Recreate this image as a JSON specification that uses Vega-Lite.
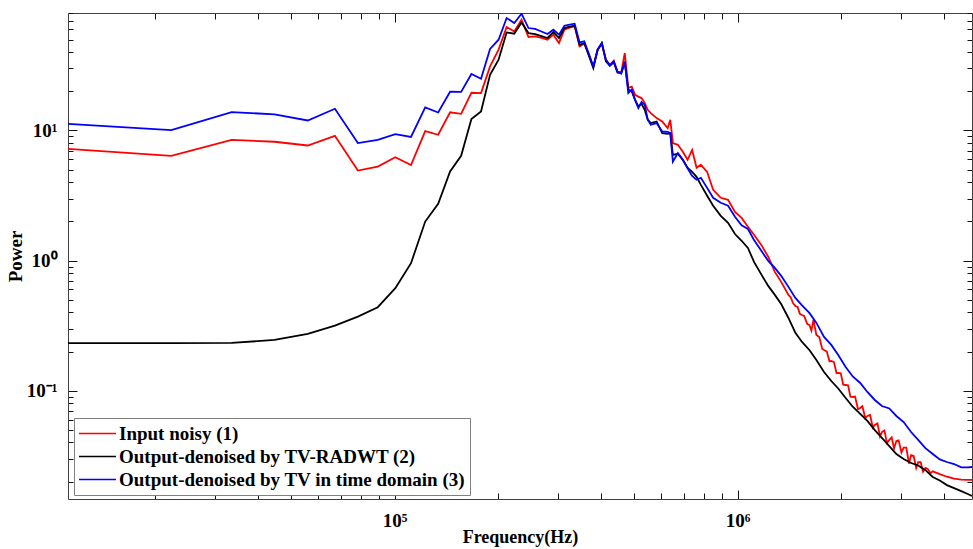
{
"$schema": "https://vega.github.io/schema/vega-lite/v6.json",
"width": 904,
"height": 486,
"autosize": "none",
"padding": {"left": 68, "top": 13, "right": 1, "bottom": 50},
"background": "white",
"config": {"view": {"stroke": null}, "font": "Liberation Serif"},
"data": {"values": [
{"f":11170,"r":7.23,"k":0.2316,"b":11.26},
{"f":22340,"r":6.39,"k":0.2316,"b":10.07},
{"f":33510,"r":8.48,"k":0.2328,"b":13.85},
{"f":44680,"r":8.19,"k":0.2455,"b":13.32},
{"f":55850,"r":7.67,"k":0.2731,"b":11.94},
{"f":67020,"r":9.10,"k":0.3162,"b":14.69},
{"f":78190,"r":4.92,"k":0.371,"b":8.00},
{"f":89360,"r":5.28,"k":0.438,"b":8.48},
{"f":100530,"r":6.22,"k":0.613,"b":9.38},
{"f":111700,"r":5.43,"k":0.955,"b":8.91},
{"f":122870,"r":9.88,"k":1.995,"b":15.03},
{"f":134040,"r":9.27,"k":2.73,"b":13.75},
{"f":145210,"r":13.8,"k":4.84,"b":19.85},
{"f":156380,"r":13.44,"k":6.39,"b":19.78},
{"f":167550,"r":19.5,"k":12.24,"b":27.16},
{"f":178720,"r":19.4,"k":14.0,"b":24.98},
{"f":189890,"r":31.07,"k":26.8,"b":42.29},
{"f":201060,"r":41.8,"k":35.0,"b":49.86},
{"f":212230,"r":62.4,"k":56.7,"b":73.2},
{"f":223400,"r":57.7,"k":55.4,"b":67.0},
{"f":234570,"r":71.0,"k":67.7,"b":79.0},
{"f":245740,"r":52.3,"k":56.1,"b":61.3},
{"f":256910,"r":52.9,"k":55.1,"b":60.3},
{"f":268080,"r":51.4,"k":53.2,"b":57.7},
{"f":279250,"r":49.86,"k":51.4,"b":55.1},
{"f":290420,"r":54.5,"k":57.1,"b":59.5},
{"f":301590,"r":47.0,"k":51.4,"b":54.5},
{"f":312760,"r":59.5,"k":61.3,"b":63.9},
{"f":323930,"r":61.7,"k":62.8,"b":65.0},
{"f":335100,"r":63.1,"k":63.9,"b":66.2},
{"f":346270,"r":44.3,"k":45.6,"b":47.5},
{"f":357440,"r":46.4,"k":47.0,"b":48.4},
{"f":368610,"r":38.2,"k":37.6,"b":38.9},
{"f":379780,"r":30.9,"k":30.2,"b":31.07},
{"f":390950,"r":41.8,"k":41.8,"b":41.8},
{"f":402120,"r":46.4,"k":47.0,"b":47.0},
{"f":413290,"r":35.0,"k":33.95,"b":35.0},
{"f":424460,"r":32.0,"k":31.5,"b":31.5},
{"f":435630,"r":34.4,"k":33.4,"b":33.95},
{"f":446800,"r":28.3,"k":27.9,"b":28.3},
{"f":457970,"r":27.8,"k":27.8,"b":27.3},
{"f":469140,"r":39.4,"k":33.0,"b":33.95},
{"f":480310,"r":21.3,"k":20.6,"b":19.4},
{"f":491480,"r":21.7,"k":19.95,"b":20.6},
{"f":502650,"r":18.8,"k":17.2,"b":17.2},
{"f":513820,"r":18.2,"k":15.3,"b":14.87},
{"f":524990,"r":17.75,"k":16.05,"b":16.6},
{"f":536160,"r":16.3,"k":14.43,"b":15.8},
{"f":547330,"r":14.43,"k":12.1,"b":12.1},
{"f":558500,"r":13.6,"k":11.4,"b":11.06},
{"f":580840,"r":12.45,"k":11.73,"b":11.4},
{"f":603180,"r":11.73,"k":9.55,"b":9.82},
{"f":625520,"r":10.43,"k":9.43,"b":9.77},
{"f":636690,"r":12.09,"k":9.55,"b":9.55},
{"f":647860,"r":8.00,"k":6.50,"b":5.77},
{"f":670200,"r":7.76,"k":6.62,"b":6.70},
{"f":692540,"r":6.86,"k":5.95,"b":5.95},
{"f":714880,"r":5.95,"k":5.17,"b":5.12},
{"f":737220,"r":7.10,"k":4.81,"b":4.48},
{"f":759560,"r":5.17,"k":4.40,"b":4.18},
{"f":781900,"r":5.45,"k":3.82,"b":4.33},
{"f":815410,"r":4.81,"k":3.15,"b":3.62},
{"f":848920,"r":3.50,"k":2.64,"b":3.04},
{"f":893600,"r":3.04,"k":2.21,"b":2.78},
{"f":938280,"r":2.93,"k":1.95,"b":2.64},
{"f":982960,"r":2.37,"k":1.60,"b":2.17},
{"f":1027640,"r":2.13,"k":1.42,"b":1.87},
{"f":1072320,"r":1.82,"k":1.25,"b":1.75},
{"f":1117000,"r":1.58,"k":0.977,"b":1.44},
{"f":1172850,"r":1.32,"k":0.783,"b":1.19},
{"f":1228700,"r":1.07,"k":0.639,"b":0.995},
{"f":1284550,"r":0.819,"k":0.545,"b":0.879},
{"f":1340400,"r":0.686,"k":0.464,"b":0.763},
{"f":1407420,"r":0.545,"k":0.362,"b":0.628},
{"f":1429760,"r":0.52},
{"f":1452100,"r":0.47},
{"f":1474440,"r":0.448,"k":0.278,"b":0.516},
{"f":1496780,"r":0.44},
{"f":1519120,"r":0.39},
{"f":1541460,"r":0.382,"k":0.237,"b":0.452},
{"f":1563800,"r":0.375},
{"f":1597310,"r":0.325},
{"f":1619650,"r":0.320,"k":0.2056,"b":0.396},
{"f":1641990,"r":0.29},
{"f":1664330,"r":0.35},
{"f":1697840,"r":0.268,"k":0.1722,"b":0.332},
{"f":1731350,"r":0.258},
{"f":1764860,"r":0.21},
{"f":1787200,"r":0.2056,"k":0.1393,"b":0.259},
{"f":1820710,"r":0.2},
{"f":1854220,"r":0.168},
{"f":1876560,"r":0.1693,"k":0.1187,"b":0.2247},
{"f":1910070,"r":0.166},
{"f":1943580,"r":0.136},
{"f":1965920,"r":0.1368,"k":0.1039,"b":0.1882},
{"f":1999430,"r":0.136},
{"f":2032940,"r":0.111},
{"f":2066450,"r":0.1106,"k":0.0879,"b":0.1522},
{"f":2099960,"r":0.11},
{"f":2133470,"r":0.09},
{"f":2166980,"r":0.0894,"k":0.0753,"b":0.1286},
{"f":2200490,"r":0.09},
{"f":2245170,"r":0.072},
{"f":2278680,"r":0.0736,"k":0.0662,"b":0.1146},
{"f":2312190,"r":0.076},
{"f":2356870,"r":0.0615},
{"f":2390380,"r":0.0639,"k":0.0585,"b":0.0977},
{"f":2435060,"r":0.065},
{"f":2479740,"r":0.052},
{"f":2513250,"r":0.0545,"k":0.0498,"b":0.0848},
{"f":2557930,"r":0.056},
{"f":2602610,"r":0.0445},
{"f":2636120,"r":0.0481,"k":0.0433,"b":0.0762},
{"f":2680800,"r":0.0495},
{"f":2725480,"r":0.0395},
{"f":2770160,"r":0.0418,"k":0.0375,"b":0.0730},
{"f":2814840,"r":0.0437},
{"f":2859520,"r":0.036},
{"f":2904200,"r":0.041,"k":0.0326,"b":0.0639},
{"f":2948880,"r":0.0415},
{"f":3004730,"r":0.0335},
{"f":3049410,"r":0.0365,"k":0.0298,"b":0.0574},
{"f":3105260,"r":0.0365},
{"f":3161110,"r":0.0275},
{"f":3205790,"r":0.032,"k":0.0278,"b":0.0481},
{"f":3261640,"r":0.0315},
{"f":3317490,"r":0.0255},
{"f":3362170,"r":0.0282,"k":0.0266,"b":0.0418},
{"f":3418020,"r":0.0282},
{"f":3473870,"r":0.0238},
{"f":3529720,"r":0.0255,"k":0.0245,"b":0.0362},
{"f":3585570,"r":0.025},
{"f":3652590,"r":0.0232},
{"f":3708440,"r":0.024,"k":0.0217,"b":0.0326},
{"f":3887160,"r":0.0228,"k":0.0204,"b":0.0296},
{"f":4077050,"r":0.0218,"k":0.0188,"b":0.0283},
{"f":4278110,"r":0.0211,"k":0.0178,"b":0.0273},
{"f":4490340,"r":0.0207,"k":0.0169,"b":0.0257},
{"f":4691400,"r":0.0206,"k":0.01605,"b":0.0257},
{"f":4825440,"r":0.0206,"k":0.0155,"b":0.0259}
]},
"transform": [
  {"fold": ["r", "k", "b"], "as": ["s", "p"]},
  {"filter": "isValid(datum.p)"}
],
"layer": [
  {
    "mark": {"type": "line", "strokeWidth": 1.8, "clip": true},
    "encoding": {
      "x": {"field": "f", "type": "quantitative",
        "scale": {"type": "log", "domain": [11170, 4825440], "nice": false},
        "axis": {"orient": "bottom", "grid": false, "ticks": true,
          "values": [20000,30000,40000,50000,60000,70000,80000,90000,100000,200000,300000,400000,500000,600000,700000,800000,900000,1000000,2000000,3000000,4000000],
          "labelExpr": "datum.value == 100000 ? '10⁵' : datum.value == 1000000 ? '10⁶' : ''",
          "tickSize": {"condition": {"test": "datum.value == 100000 || datum.value == 1000000", "value": -9}, "value": -6},
          "tickColor": "#111111", "tickWidth": 1, "domainColor": "#404040",
          "labelPadding": 21, "labelFontSize": 19, "labelFont": "Liberation Serif", "labelFontWeight": "bold", "labelColor": "black",
          "labelOverlap": false, "labelFlush": false,
          "title": "Frequency(Hz)", "titleFont": "Liberation Serif", "titleFontSize": 18, "titleFontWeight": "bold", "titleColor": "black",
          "titleX": 452, "titleY": 38, "titleAlign": "center", "titleBaseline": "middle"}},
      "y": {"field": "p", "type": "quantitative",
        "scale": {"type": "log", "domain": [0.0147, 80], "nice": false},
        "axis": {"orient": "left", "grid": false, "ticks": true,
          "values": [0.02,0.03,0.04,0.05,0.06,0.07,0.08,0.09,0.1,0.2,0.3,0.4,0.5,0.6,0.7,0.8,0.9,1,2,3,4,5,6,7,8,9,10,20,30,40,50,60,70,80],
          "labelExpr": "datum.value == 0.1 ? '10⁻¹' : datum.value == 1 ? '10⁰' : datum.value == 10 ? '10¹' : ''",
          "tickSize": {"condition": {"test": "datum.value == 0.1 || datum.value == 1 || datum.value == 10", "value": -9}, "value": -5},
          "tickColor": "#111111", "tickWidth": 1, "domainColor": "#404040",
          "labelPadding": 20, "labelFontSize": 19, "labelFont": "Liberation Serif", "labelFontWeight": "bold", "labelColor": "black",
          "labelOverlap": false, "labelFlush": false,
          "title": "Power", "titleFont": "Liberation Serif", "titleFontSize": 19, "titleFontWeight": "bold", "titleColor": "black",
          "titleX": -53, "titleY": 243, "titleAlign": "center", "titleBaseline": "middle", "titleAngle": -90}},
      "color": {"field": "s", "type": "nominal",
        "scale": {"domain": ["r", "k", "b"], "range": ["#ff0000", "#000000", "#0000ff"]},
        "legend": {"title": null, "orient": "none", "legendX": 6, "legendY": 405,
          "symbolType": "stroke", "symbolSize": 1369, "symbolStrokeWidth": 1.6,
          "labelFont": "Liberation Serif", "labelFontSize": 19, "labelFontWeight": "bold", "labelColor": "black", "labelLimit": 500,
          "labelExpr": "datum.label == 'r' ? 'Input noisy (1)' : datum.label == 'k' ? 'Output-denoised by TV-RADWT (2)' : 'Output-denoised by TV in time domain (3)'",
          "fillColor": "white", "strokeColor": "#808080", "padding": 4, "rowPadding": 0, "clipHeight": 23, "labelOffset": 2}}
    }
  },
  {
    "mark": {"type": "point", "opacity": 0, "size": 1},
    "encoding": {
      "x": {"field": "f", "type": "quantitative",
        "axis": {"orient": "top", "grid": false, "labels": false, "title": null, "ticks": true,
          "values": [20000,30000,40000,50000,60000,70000,80000,90000,100000,200000,300000,400000,500000,600000,700000,800000,900000,1000000,2000000,3000000,4000000],
          "tickSize": {"condition": {"test": "datum.value == 100000 || datum.value == 1000000", "value": -9}, "value": -6},
          "tickColor": "#111111", "tickWidth": 1, "domainColor": "#404040"}},
      "y": {"field": "p", "type": "quantitative",
        "axis": {"orient": "right", "grid": false, "labels": false, "title": null, "ticks": true,
          "values": [0.02,0.03,0.04,0.05,0.06,0.07,0.08,0.09,0.1,0.2,0.3,0.4,0.5,0.6,0.7,0.8,0.9,1,2,3,4,5,6,7,8,9,10,20,30,40,50,60,70,80],
          "tickSize": {"condition": {"test": "datum.value == 0.1 || datum.value == 1 || datum.value == 10", "value": -9}, "value": -5},
          "tickColor": "#111111", "tickWidth": 1, "domainColor": "#404040"}}
    }
  }
]
}
